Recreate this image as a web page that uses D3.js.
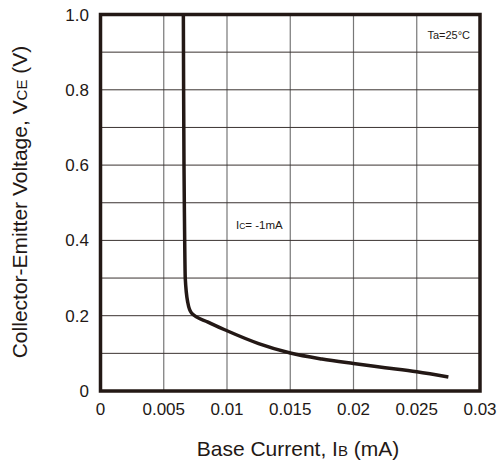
<!DOCTYPE html>
<html>
<head>
<meta charset="utf-8">
<script src="https://cdn.jsdelivr.net/npm/d3@7"></script>
<style>
  body { margin: 0; background: #fff; }
  text { font-family: "Liberation Sans", Arial, sans-serif; fill: #231815; }
</style>
</head>
<body>
<svg id="chart" width="500" height="461"></svg>
<script>
// base current (mA) vs collector-emitter voltage (V), Ic = -1mA
var ibValues = [0.00655, 0.00657, 0.0066, 0.00664, 0.0067, 0.0069, 0.0072, 0.0085, 0.01, 0.0125, 0.015, 0.0175, 0.02, 0.0225, 0.025, 0.0275];
var vceValues = [1.0, 0.8, 0.6, 0.45, 0.3, 0.235, 0.207, 0.183, 0.160, 0.126, 0.101, 0.085, 0.073, 0.062, 0.051, 0.037];

var xTicks = [0, 0.005, 0.01, 0.015, 0.02, 0.025, 0.03];
var xTickLabels = ["0", "0.005", "0.01", "0.015", "0.02", "0.025", "0.03"];
var yTicks = [0, 0.2, 0.4, 0.6, 0.8, 1.0];
var yTickLabels = ["0", "0.2", "0.4", "0.6", "0.8", "1.0"];
var yGrid = [0.1, 0.2, 0.3, 0.4, 0.5, 0.6, 0.7, 0.8, 0.9];

var svg = d3.select("#chart");

var plotLeft = 100.5, plotRight = 480, plotTop = 14.5, plotBottom = 391;

var x = d3.scaleLinear().domain([0, 0.03]).range([plotLeft, plotRight]);
var y = d3.scaleLinear().domain([0, 1.0]).range([plotBottom, plotTop]);

// grid
svg.append("g").selectAll("line")
  .data(xTicks.slice(1, -1))
  .enter()
  .append("line")
  .attr("x1", function(d){ return x(d); })
  .attr("x2", function(d){ return x(d); })
  .attr("y1", plotTop)
  .attr("y2", plotBottom)
  .attr("stroke", "#777")
  .attr("stroke-width", 1.2);

svg.append("g").selectAll("line")
  .data(yGrid)
  .enter()
  .append("line")
  .attr("x1", plotLeft)
  .attr("x2", plotRight)
  .attr("y1", function(d){ return y(d); })
  .attr("y2", function(d){ return y(d); })
  .attr("stroke", "#3a3230")
  .attr("stroke-width", 1);

// curve
var pts = ibValues.map(function(d, i){ return [d, vceValues[i]]; });
var line = d3.line()
  .x(function(d){ return x(d[0]); })
  .y(function(d){ return y(d[1]); })
  .curve(d3.curveMonotoneX);

svg.append("path")
  .datum(pts)
  .attr("d", line)
  .attr("fill", "none")
  .attr("stroke", "#231815")
  .attr("stroke-width", 3.5);

// frame
svg.append("rect")
  .attr("x", plotLeft)
  .attr("y", plotTop)
  .attr("width", plotRight - plotLeft)
  .attr("height", plotBottom - plotTop)
  .attr("fill", "none")
  .attr("stroke", "#231815")
  .attr("stroke-width", 3.5);

// tick labels
svg.append("g").selectAll("text")
  .data(xTicks)
  .enter()
  .append("text")
  .attr("x", function(d){ return x(d); })
  .attr("y", 414.5)
  .attr("text-anchor", "middle")
  .attr("font-size", 17)
  .text(function(d, i){ return xTickLabels[i]; });

svg.append("g").selectAll("text")
  .data(yTicks)
  .enter()
  .append("text")
  .attr("x", 89)
  .attr("y", function(d){ return y(d) + 6; })
  .attr("text-anchor", "end")
  .attr("font-size", 17)
  .text(function(d, i){ return yTickLabels[i]; });

// axis titles
var xt = svg.append("text")
  .attr("x", 298)
  .attr("y", 456)
  .attr("text-anchor", "middle")
  .attr("font-size", 21);
xt.append("tspan").text("Base Current, I");
xt.append("tspan").attr("font-size", 15).text("B");
xt.append("tspan").text(" (mA)");

var yt = svg.append("text")
  .attr("transform", "translate(27,202) rotate(-90)")
  .attr("text-anchor", "middle")
  .attr("font-size", 21);
yt.append("tspan").text("Collector-Emitter Voltage, V");
yt.append("tspan").attr("font-size", 15).text("CE");
yt.append("tspan").text(" (V)");

// annotations
svg.append("text")
  .attr("x", 470)
  .attr("y", 39)
  .attr("text-anchor", "end")
  .attr("font-size", 11)
  .text("Ta=25°C");

var ic = svg.append("text")
  .attr("x", 236)
  .attr("y", 229)
  .attr("font-size", 11.5);
ic.append("tspan").text("I");
ic.append("tspan").attr("font-size", 8.5).text("C");
ic.append("tspan").text("= -1mA");
</script>
</body>
</html>
